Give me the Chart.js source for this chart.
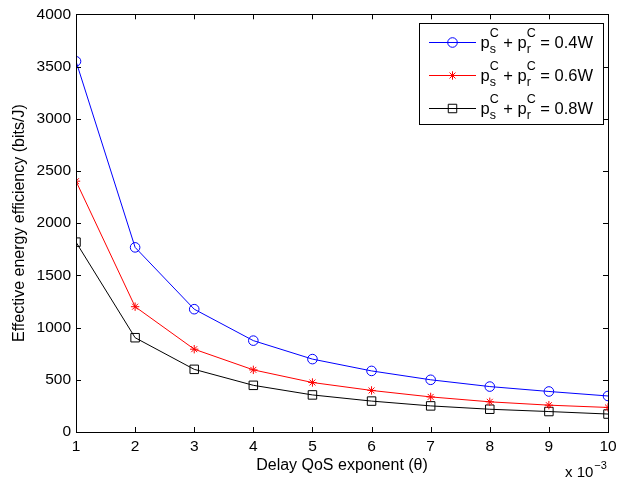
<!DOCTYPE html>
<html><head><meta charset="utf-8">
<script src="https://cdn.jsdelivr.net/npm/chart.js@4/dist/chart.umd.min.js"></script>
<style>html,body{margin:0;padding:0;background:#fff}canvas{display:block}</style>
</head><body>
<canvas id="c" width="624" height="481"></canvas>
<script>
// ---- data ----
const thetaValues = [1, 2, 3, 4, 5, 6, 7, 8, 9, 10];
const xTickValues = [1, 2, 3, 4, 5, 6, 7, 8, 9, 10];
const yTickValues = [0, 500, 1000, 1500, 2000, 2500, 3000, 3500, 4000];
const seriesPower = ['0.4W', '0.6W', '0.8W'];
const eff04 = [3550, 1768, 1176, 875, 698, 585, 500, 435, 388, 345];
const eff06 = [2402, 1200, 793, 595, 474, 398, 336, 289, 257, 235];
const eff08 = [1818, 903, 600, 447, 355, 296, 250, 218, 196, 172];
const xTitle = 'Delay QoS exponent (\u03b8)';
const yTitle = 'Effective energy efficiency (bits/J)';

const FONT = '"Liberation Sans", Arial, Helvetica, sans-serif';
const colors = ['#0000ff', '#ff0000', '#000000'];
const styles = ['circle', 'star', 'rect'];
const radii = [4.8, 4.2, 6.0];
const allSeries = [eff04, eff06, eff08];

const datasets = allSeries.map((arr, i) => ({
  label: seriesPower[i],
  data: thetaValues.map((t, j) => ({x: t, y: arr[j]})),
  borderColor: colors[i],
  backgroundColor: 'rgba(0,0,0,0)',
  borderWidth: 1,
  pointStyle: styles[i],
  pointRadius: radii[i],
  pointBorderColor: colors[i],
  pointBackgroundColor: 'rgba(0,0,0,0)',
  pointBorderWidth: 1,
  tension: 0,
  fill: false
}));

function drawMarker(ctx, style, x, y, r, color) {
  ctx.save();
  ctx.strokeStyle = color; ctx.lineWidth = 1;
  ctx.beginPath();
  if (style === 'circle') {
    ctx.arc(x, y, r, 0, Math.PI * 2);
  } else if (style === 'star') {
    ctx.moveTo(x - r, y); ctx.lineTo(x + r, y);
    ctx.moveTo(x, y - r); ctx.lineTo(x, y + r);
    const d = r * Math.SQRT1_2;
    ctx.moveTo(x - d, y - d); ctx.lineTo(x + d, y + d);
    ctx.moveTo(x - d, y + d); ctx.lineTo(x + d, y - d);
  } else {
    const s = r * Math.SQRT1_2;
    ctx.rect(x - s, y - s, 2 * s, 2 * s);
  }
  ctx.stroke();
  ctx.restore();
}

const framePlugin = {
  id: 'frame',
  afterDraw(chart) {
    const ctx = chart.ctx;
    const a = chart.chartArea;
    const xs = chart.scales.x, ys = chart.scales.y;
    ctx.save();
    ctx.strokeStyle = '#000';
    ctx.lineWidth = 1;
    // box
    ctx.strokeRect(Math.round(a.left) + 0.5, Math.round(a.top) + 0.5,
      Math.round(a.right - a.left), Math.round(a.bottom - a.top));
    // inward ticks
    ctx.beginPath();
    const tl = 5;
    yTickValues.forEach(v => {
      const py = Math.round(ys.getPixelForValue(v)) + 0.5;
      ctx.moveTo(a.left, py); ctx.lineTo(a.left + tl, py);
      ctx.moveTo(a.right, py); ctx.lineTo(a.right - tl, py);
    });
    xTickValues.forEach(v => {
      const px = Math.round(xs.getPixelForValue(v)) + 0.5;
      ctx.moveTo(px, a.bottom); ctx.lineTo(px, a.bottom - tl);
      ctx.moveTo(px, a.top); ctx.lineTo(px, a.top + tl);
    });
    ctx.stroke();

    // axis titles
    ctx.fillStyle = '#000';
    ctx.font = '16px ' + FONT;
    ctx.textAlign = 'center';
    ctx.textBaseline = 'middle';
    ctx.fillText(xTitle, (a.left + a.right) / 2, 466);
    ctx.save();
    ctx.translate(20, (a.top + a.bottom) / 2);
    ctx.rotate(-Math.PI / 2);
    ctx.fillText(yTitle, 0, 0);
    ctx.restore();

    // exponent label x 10^-3
    ctx.textAlign = 'left';
    ctx.textBaseline = 'alphabetic';
    ctx.font = '15px ' + FONT;
    const baseX = 565, baseY = 477;
    ctx.fillText('x 10', baseX, baseY);
    const w = ctx.measureText('x 10').width;
    ctx.font = '11px ' + FONT;
    ctx.fillText('\u22123', baseX + w + 1, baseY - 8);

    // legend
    const lx = a.right - 189, ly = a.top + 9, lw = 184, lh = 101;
    ctx.fillStyle = '#fff';
    ctx.fillRect(lx, ly, lw, lh);
    ctx.strokeStyle = '#000';
    ctx.strokeRect(Math.round(lx) + 0.5, Math.round(ly) + 0.5, lw, lh);
    seriesPower.forEach((p, i) => {
      const ry = ly + 18.5 + i * 33;
      ctx.strokeStyle = colors[i];
      ctx.lineWidth = 1;
      ctx.beginPath();
      ctx.moveTo(lx + 10, Math.round(ry) + 0.5);
      ctx.lineTo(lx + 57, Math.round(ry) + 0.5);
      ctx.stroke();
      drawMarker(ctx, styles[i], lx + 33.5, Math.round(ry) + 0.5, radii[i], colors[i]);
      // text
      let tx = lx + 61.5;
      const by = ry + 6;
      ctx.fillStyle = '#000';
      const big = '16.5px ' + FONT, small = '12.5px ' + FONT;
      const piece = (txt, font, dy, adv) => {
        ctx.font = font;
        ctx.fillText(txt, tx, by + dy);
        const wd = ctx.measureText(txt).width;
        if (adv !== false) tx += wd;
        return wd;
      };
      piece('p', big, 0);
      let x0 = tx;
      const w1 = piece('C', small, -11, false);
      piece('s', small, 5, false);
      tx = x0 + w1;
      piece(' + p', big, 0);
      x0 = tx;
      const w2 = piece('C', small, -11, false);
      piece('r', small, 5, false);
      tx = x0 + w2;
      piece(' = ' + p, big, 0);
    });
    ctx.restore();
  }
};

new Chart(document.getElementById('c'), {
  type: 'line',
  data: { datasets },
  options: {
    responsive: false,
    animation: false,
    devicePixelRatio: 1,
    layout: { padding: { left: 0, right: 16, top: 14, bottom: 0 } },
    plugins: { legend: { display: false }, tooltip: { enabled: false } },
    scales: {
      x: {
        type: 'linear', min: 1, max: 10,
        afterFit(s) { s.height = 49; },
        afterBuildTicks(s) { s.ticks = xTickValues.map(v => ({value: v})); },
        grid: { display: false, drawTicks: false },
        border: { display: false },
        ticks: { color: '#000', font: { family: FONT, size: 15.5 }, padding: 5, maxRotation: 0, autoSkip: false,
                 callback: v => String(v) }
      },
      y: {
        type: 'linear', min: 0, max: 4000,
        afterFit(s) { s.width = 76; },
        afterBuildTicks(s) { s.ticks = yTickValues.map(v => ({value: v})); },
        grid: { display: false, drawTicks: false },
        border: { display: false },
        ticks: { color: '#000', font: { family: FONT, size: 15.5 }, padding: 5, autoSkip: false,
                 callback: v => String(v) }
      }
    }
  },
  plugins: [framePlugin]
});
</script>
</body></html>
